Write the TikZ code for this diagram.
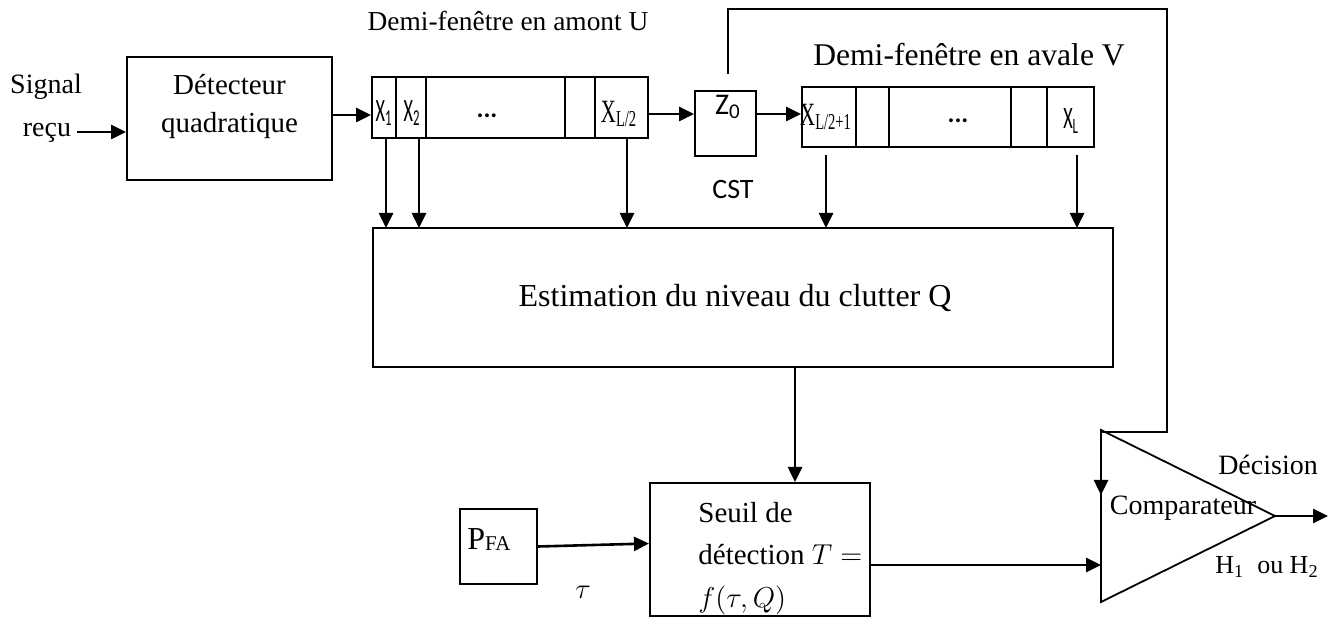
\documentclass[tikz,border=0pt]{standalone}
\usepackage{fontspec}
\setmainfont{Liberation Serif}
\newfontfamily\calib{Carlito}
\usepackage{graphicx}
\usetikzlibrary{arrows.meta,calc}
\newcommand\myfs[1]{\fontsize{#1}{#1}\selectfont}
\begin{document}
\begin{tikzpicture}[x=0.5pt,y=-0.5pt,
  box/.style={draw, line width=1pt, inner sep=0pt},
  cell/.style={line width=0.9pt},
  wire/.style={line width=1.3pt},
  arr/.style={line width=1.3pt, -{Triangle[length=7.5pt,width=7pt]}},
  txt/.style={inner sep=0pt, anchor=base},
  xl/.style={inner sep=0pt}]
\useasboundingbox (0,0) rectangle (1343,619);

% boxes
\node[box, minimum width=102.5pt, minimum height=61.5pt] (det) at (229.5,118.5) {};
\node[box, minimum width=138pt, minimum height=30.5pt] (U) at (510,107.5) {};
\node[box, minimum width=30.5pt, minimum height=32.5pt] (Z0) at (725.5,123.5) {};
\node[box, minimum width=146pt, minimum height=30pt] (V) at (948,117) {};
\node[box, minimum width=370pt, minimum height=69.5pt] (est) at (743,297.5) {};
\node[box, minimum width=110pt, minimum height=66.5pt] (seuil) at (760,549.5) {};
\node[box, minimum width=38.5pt, minimum height=37.5pt] (pfa) at (498.5,546.5) {};

% comparator triangle
\coordinate (cA) at (1101,430);
\coordinate (cB) at (1101,602);
\coordinate (cC) at (1275,516);
\draw[line width=0.9pt] (cA) -- (cC) -- (cB) -- cycle;

% cell dividers
\foreach \x in {396,426,565,595} \draw[cell] (\x,77) -- (\x,138);
\foreach \x in {856,889,1011,1047} \draw[cell] (\x,87) -- (\x,147);

% cell labels
\node[xl] (x1) at (384,113) {\scalebox{0.7}[1.25]{\calib\myfs{13}X\textsubscript{1}}};
\node[xl] (x2) at (412,113) {\scalebox{0.7}[1.25]{\calib\myfs{13}X\textsubscript{2}}};
\node[xl] (dU) at (487,116) {\calib\myfs{13}\textbf{...}};
\node[xl] (xL2) at (619,114) {\scalebox{0.8}[1.25]{\myfs{13}X\textsubscript{L/2}}};
\node[xl] (xL21) at (826,117) {\scalebox{0.8}[1.25]{\myfs{13}X\textsubscript{L/2+1}}};
\node[xl] (dV) at (958,121) {\calib\myfs{13}\textbf{...}};
\node[xl] (xL) at (1071,121) {\scalebox{0.7}[1.2]{\calib\myfs{13}X\textsubscript{L}}};
\node[xl] (z0t) at (728,107) {\calib\myfs{15}Z\textsubscript{0}};

% texts
\node[txt, font=\myfs{14}] (tSig) at (46,94) {Signal};
\node[txt, font=\myfs{14}] (tRecu) at (47,137) {reçu};
\node[txt, font=\myfs{14.5}] (tDet1) at (229.5,95) {Détecteur};
\node[txt, font=\myfs{14.5}] (tDet2) at (229.5,133) {quadratique};
\node[txt, font=\myfs{13.7}] (tU) at (508,31) {Demi-fenêtre en amont U};
\node[txt, font=\myfs{15.8}] (tV) at (969,66) {Demi-fenêtre en avale V};
\node[xl, font=\calib\myfs{14}] (tCST) at (733,190) {CST};
\node[txt, font=\myfs{16}] (tEst) at (735,307) {Estimation du niveau du clutter Q};
\node[txt, font=\myfs{14.5}, anchor=base west] (tS1) at (698,523) {Seuil de};
\node[txt, font=\myfs{14.5}, anchor=base west] (tS2) at (698,564) {détection $T =$};
\node[txt, font=\myfs{14.5}, anchor=base west] (tS3) at (698,607) {$f(\tau,Q)$};
\node[txt, font=\myfs{16}, anchor=base west] (tP) at (467,550) {P\raisebox{-0.5pt}{\myfs{10.5}FA}};
\node[xl, font=\myfs{15}] (tTau) at (583,592) {$\tau$};
\node[xl, font=\myfs{14}] (tCmp) at (1183,508) {Comparateur};
\node[xl, font=\myfs{14}] (tDec) at (1268,465) {Décision};
\node[xl, font=\myfs{13}] (tH) at (1267,567) {H\textsubscript{1}\ \ ou H\textsubscript{2}};

% connectors
\coordinate (sig) at (77,132);
\draw[arr] (sig) -- (sig -| det.west);
\coordinate (h0) at (0,115);
\draw[arr] (det.east |- h0) -- (U.west |- h0);
\coordinate (h1) at (0,114);
\draw[arr] (U.east |- h1) -- (Z0.west |- h1);
\draw[arr] (Z0.east |- h1) -- (V.west |- h1);

\foreach \x in {386,419,627} \draw[arr] (\x,138) -- (\x,228);
\foreach \x in {826,1077} \draw[arr] (\x,155) -- (\x,228);

\coordinate (vE) at (795,0);
\draw[arr] (est.south -| vE) -- (seuil.north -| vE);
\draw[arr] (pfa.east) -- ($(seuil.west)+(0,-6)$);

\coordinate (fbA) at ($(Z0.north)+(2.5,-16)$);
\coordinate (fbT) at (1167,9);
\coordinate (fbC) at (1101,432);
\coordinate (cIn1) at (1101,495);
\draw[wire] (fbA) |- (fbT) |- (fbC);
\draw[arr] (fbC) -- (cIn1);

\coordinate (cIn2) at (1101,565);
\draw[arr] (seuil.east |- cIn2) -- (cIn2);
\coordinate (out) at (1328,516);
\draw[arr] (cC) -- (out);
\end{tikzpicture}
\end{document}
